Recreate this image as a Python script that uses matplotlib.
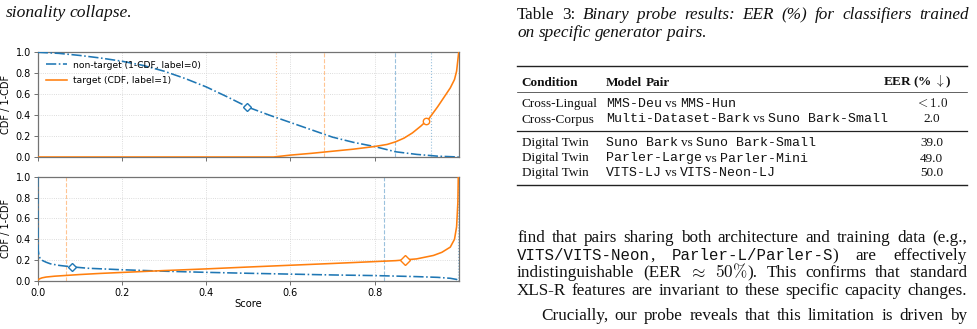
import matplotlib
matplotlib.use('Agg')
import matplotlib.pyplot as plt
from matplotlib.lines import Line2D

# ---- данные ----
# верхняя панель
top_nt_x = [0, 0.05, 0.10, 0.15, 0.20, 0.25, 0.30, 0.35, 0.40, 0.45, 0.50, 0.55, 0.60,
            0.65, 0.70, 0.75, 0.80, 0.85, 0.90, 0.95, 1.0]
top_nt_y = [1.0, 0.99, 0.97, 0.945, 0.915, 0.875, 0.82, 0.75, 0.67, 0.575, 0.475, 0.40, 0.33,
            0.26, 0.19, 0.14, 0.10, 0.05, 0.025, 0.008, 0.0]
top_t_x = [0, 0.56, 0.60, 0.65, 0.70, 0.75, 0.80, 0.83, 0.85, 0.87, 0.89, 0.91, 0.93,
           0.95, 0.97, 0.98, 0.99, 0.995, 1.0]
top_t_y = [0, 0.0, 0.018, 0.035, 0.055, 0.075, 0.10, 0.12, 0.145, 0.18, 0.23, 0.295, 0.37,
           0.48, 0.60, 0.66, 0.74, 0.82, 1.0]
top_nt_mark = (0.497, 0.48)
top_t_mark = (0.923, 0.34)
top_nt_thr = [0.849, 0.935]
top_t_thr = [0.565, 0.68]

# нижняя панель
bot_nt_x = [0, 0.0005, 0.001, 0.003, 0.006, 0.012, 0.02, 0.03, 0.05, 0.08, 0.12, 0.2, 0.3,
            0.4, 0.5, 0.6, 0.7, 0.8, 0.9, 0.95, 0.98, 0.995, 0.999]
bot_nt_y = [1.0, 0.55, 0.3, 0.24, 0.215, 0.195, 0.18, 0.165, 0.15, 0.136, 0.122, 0.108, 0.094,
            0.083, 0.074, 0.066, 0.058, 0.052, 0.042, 0.035, 0.026, 0.015, 0.0]
bot_t_x = [0, 0.005, 0.01, 0.02, 0.04, 0.07, 0.1, 0.15, 0.2, 0.3, 0.4, 0.5, 0.6, 0.7, 0.8,
           0.85, 0.9, 0.94, 0.96, 0.98, 0.99, 0.995, 0.998, 0.999]
bot_t_y = [0.01, 0.022, 0.03, 0.038, 0.046, 0.054, 0.062, 0.073, 0.082, 0.1, 0.116, 0.134,
           0.151, 0.168, 0.186, 0.195, 0.212, 0.245, 0.275, 0.325, 0.40, 0.52, 0.75, 1.0]
bot_nt_mark = (0.082, 0.136)
bot_t_mark = (0.872, 0.2)
bot_nt_thr = [0.823, 0.998]
bot_t_thr = [0.067]

yticks = [0.0, 0.2, 0.4, 0.6, 0.8, 1.0]
xticks = [0.0, 0.2, 0.4, 0.6, 0.8]

# таблица
conditions = ['Cross-Lingual', 'Cross-Corpus', 'Digital Twin', 'Digital Twin', 'Digital Twin']
pair_a = ['MMS-Deu', 'Multi-Dataset-Bark', 'Suno Bark', 'Parler-Large', 'VITS-LJ']
pair_b = ['MMS-Hun', 'Suno Bark-Small', 'Suno Bark-Small', 'Parler-Mini', 'VITS-Neon-LJ']
eer = [r'$<1.0$', '2.0', '39.0', '49.0', '50.0']

BLUE = '#1f77b4'
ORANGE = '#ff7f0e'
W, H = 977, 329

fig = plt.figure(figsize=(W / 100, H / 100), dpi=100)
R = fig.canvas.get_renderer()


def style_ax(ax, labels=True):
    ax.set_xlim(0, 0.9995)
    ax.set_ylim(0, 1.0)
    ax.set_xticks(xticks)
    ax.set_yticks(yticks)
    ax.grid(True, linestyle=':', linewidth=0.6, color='0.82')
    for s in ax.spines.values():
        s.set_color('0.45')
        s.set_linewidth(0.9)
    ax.tick_params(labelsize=7, length=3, width=0.6, color='0.35', pad=2,
                   labelbottom=labels)
    ax.set_ylabel('CDF / 1-CDF', fontsize=7, labelpad=3)


def draw_panel(ax, nx, ny, tx, ty, nm, tm, tmarker, nthr, tthr):
    for v in tthr:
        ax.axvline(v, color=ORANGE, alpha=0.45, lw=0.8, ls='--' if v == max(tthr) else ':')
    for v in nthr:
        ax.axvline(v, color=BLUE, alpha=0.45, lw=0.8, ls='--' if v == min(nthr) else ':')
    ax.plot(nx, ny, color=BLUE, lw=1.15, ls='-.', zorder=3, label='non-target (1-CDF, label=0)')
    ax.plot(tx, ty, color=ORANGE, lw=1.15, zorder=3, label='target (CDF, label=1)')
    ax.plot([nm[0]], [nm[1]], marker='D', ms=4.2, mfc='white', mec=BLUE, mew=1.0, zorder=4)
    ax.plot([tm[0]], [tm[1]], marker=tmarker, ms=4.6, mfc='white', mec=ORANGE, mew=1.0, zorder=4)


ax1 = fig.add_axes([37.7 / W, 1 - 157 / H, 420.8 / W, 104.7 / H])
ax2 = fig.add_axes([37.7 / W, 1 - 281 / H, 420.8 / W, 104.3 / H])
draw_panel(ax1, top_nt_x, top_nt_y, top_t_x, top_t_y, top_nt_mark, top_t_mark, 'o',
           top_nt_thr, top_t_thr)
draw_panel(ax2, bot_nt_x, bot_nt_y, bot_t_x, bot_t_y, bot_nt_mark, bot_t_mark, 'D',
           bot_nt_thr, bot_t_thr)
style_ax(ax1, labels=False)
style_ax(ax2)
ax2.set_xlabel('Score', fontsize=7.2, labelpad=1)
ax1.legend(loc='upper left', fontsize=6.6, frameon=False, handlelength=2.3,
           borderaxespad=0.5, labelspacing=0.7, handletextpad=0.7)

# ---- текст страницы ----
SERIF = 'Liberation Serif'
STY = {
    'r': dict(family=SERIF),
    'i': dict(family=SERIF, style='italic'),
    'b': dict(family=SERIF, weight='bold'),
    'm': dict(family='Liberation Mono'),
    'x': dict(family=SERIF, math_fontfamily='cm'),
}
INK = '#111111'


def piece(s, st, size):
    t = fig.text(0, 0, s, fontsize=size, va='baseline', ha='left', color=INK, **STY[st])
    return t, t.get_window_extent(renderer=R).width


def put(t, x, y):
    t.set_position((x / W, 1 - y / H))


def line(words, x0, y, size, x1=None, gap=3.5, mono=None):
    built = [[piece(s, st, mono if (st == 'm' and mono) else size) for s, st in wd] for wd in words]
    ww = [sum(w for _, w in b) for b in built]
    if x1 is not None and len(words) > 1:
        gap = (x1 - x0 - sum(ww)) / (len(words) - 1)
    x = x0
    for b in built:
        for t, pw in b:
            put(t, x, y)
            x += pw
        x += gap


def plain(s, st='r'):
    return [[(w, st)] for w in s.split()]


BS = 12.3
MS = 11.3

# обрывок подписи слева
line(plain('sionality collapse.', 'i'), 5.5, 16.7, 12.6, gap=4.2)

# подпись таблицы
line([[('Table', 'r')], [('3:', 'r')]] + plain('Binary probe results: EER (%) for classifiers trained', 'i'),
     517, 19, BS, x1=969)
line(plain('on specific generator pairs.', 'i'), 517, 37, BS, gap=4.2)

# таблица
TS = 9.5
for y, lw in [(66, 1.0), (92, 0.5), (130.7, 0.9), (185, 1.0)]:
    fig.add_artist(Line2D([517 / W, 967 / W], [1 - y / H] * 2, transform=fig.transFigure,
                          color='#222222', lw=lw))
line(plain('Condition', 'b'), 521.7, 85.5, TS)
line(plain('Model Pair', 'b'), 606, 85.5, TS)
fig.text(952 / W, 1 - 85.5 / H, r'EER (% $\downarrow$)', fontsize=TS, va='baseline', ha='right',
         color=INK, math_fontfamily='cm', **STY['b'])
row_y = [106.7, 122.5, 145.7, 161.5, 176]
for i in range(len(conditions)):
    line([[(conditions[i], 'r')]], 521.7, row_y[i], TS)
    line([[(pair_a[i], 'm')], [('vs', 'r')], [(pair_b[i], 'm')]], 606, row_y[i], TS, gap=3.3)
    fig.text(931.5 / W, 1 - row_y[i] / H, eer[i], fontsize=TS, va='baseline', ha='center',
             color=INK, **STY['x'])

# абзац
line(plain('find that pairs sharing both architecture and training data (e.g.,'), 517, 242.3, BS,
     x1=967)
line([[('VITS/VITS-Neon', 'm'), (',', 'r')], [('Parler-L/Parler-S', 'm'), (')', 'r')]]
     + plain('are effectively'), 517, 260, BS, x1=967, mono=MS)
line(plain('indistinguishable (EER') + [[(r'$\approx$', 'x')], [(r'$50\%$', 'x'), (').', 'r')]]
     + plain('This confirms that standard'), 517, 277.3, BS, x1=967)
line(plain('XLS-R features are invariant to these specific capacity changes.'), 517, 295, BS,
     x1=967)
line(plain('Crucially, our probe reveals that this limitation is driven by'), 541, 320, BS, x1=967)

fig.savefig('out.png', dpi=100)
